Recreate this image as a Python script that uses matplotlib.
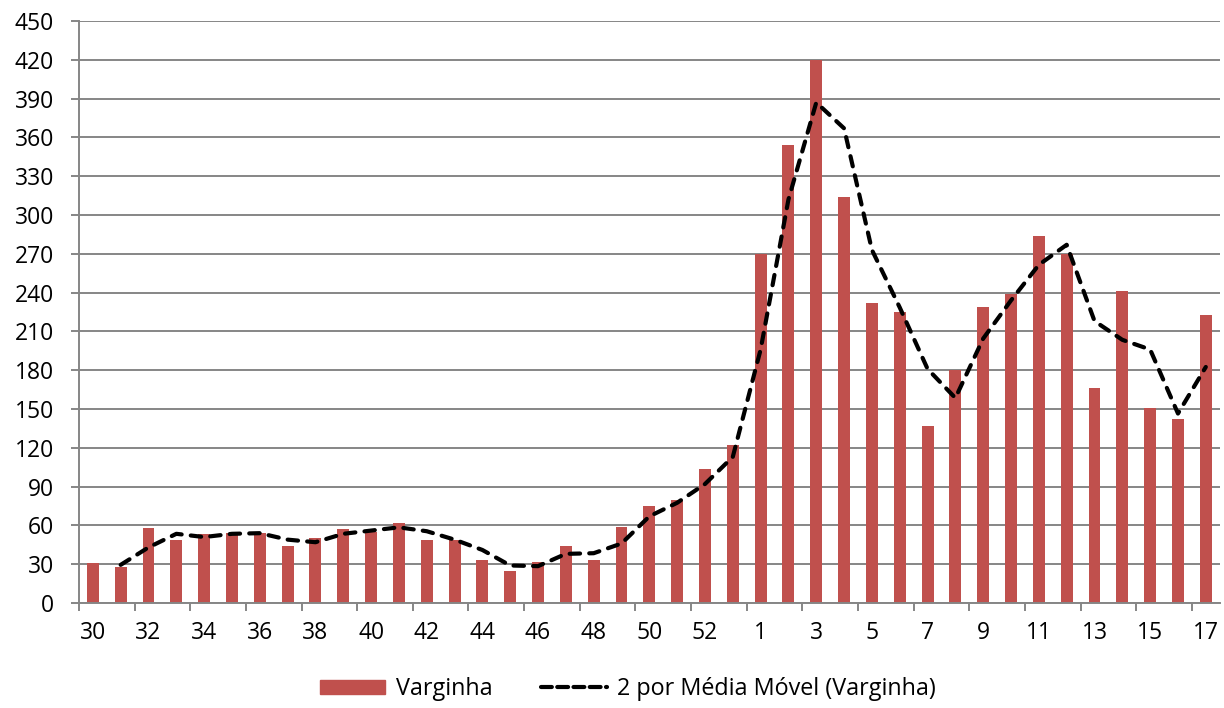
import matplotlib.pyplot as plt
import numpy as np
import pandas as pd
from matplotlib.lines import Line2D
from matplotlib.patches import Patch

plt.rcParams['font.family'] = ['Open Sans', 'DejaVu Sans']

# semanas epidemiologicas (30..53 de um ano, 1..17 do seguinte)
semanas = list(range(30, 54)) + list(range(1, 18))
casos = [31, 28, 58, 49, 53, 54, 54, 44, 50, 57, 55, 62, 49, 49, 33, 25, 32, 44, 33, 59,
         75, 80, 104, 122,
         270, 354, 420, 314, 232, 225, 137, 180, 229, 239, 284, 270, 166, 241, 151, 142, 223]
rotulos = [str(s) for s in semanas]

cor_barra = '#C0504D'
cor_grade = '#868686'

# linha de tendencia: media movel de 2 periodos
mm = pd.Series(casos).rolling(2).mean()

fig = plt.figure(figsize=(12.24, 7.08), dpi=100)
ax = fig.add_axes([0.0645, 0.1483, 0.932, 0.822])

x = np.arange(len(casos))
ax.bar(x, casos, width=0.43, color=cor_barra, zorder=2)
ax.plot(x, mm, color='black', lw=3.0, linestyle=(0, (2.5, 2.2)),
        dash_capstyle='round', zorder=3)

ax.set_xlim(-0.5, len(casos) - 0.5)
ax.set_ylim(0, 450)
ax.set_yticks(np.arange(0, 451, 30))
ax.yaxis.grid(True, color=cor_grade, lw=1.4, zorder=0)
ax.set_axisbelow(True)

ax.set_xticks(x[::2])
ax.set_xticklabels(rotulos[::2])
ax.set_xticks(np.arange(-0.5, len(casos), 2), minor=True)
ax.tick_params(axis='x', which='major', length=0, pad=13, labelsize=16.5)
ax.tick_params(axis='x', which='minor', length=6, width=1.4, color=cor_grade)
ax.tick_params(axis='y', length=6, width=1.4, color=cor_grade, labelsize=16.5, pad=12)

for lado in ['top', 'right']:
    ax.spines[lado].set_visible(False)
for lado in ['left', 'bottom']:
    ax.spines[lado].set_color(cor_grade)
    ax.spines[lado].set_linewidth(1.4)

handles = [Patch(color=cor_barra, label='Varginha'),
           Line2D([], [], color='black', lw=3.0, linestyle=(0, (2.6, 1.3)),
                  dash_capstyle='round', label='2 por Média Móvel (Varginha)')]
fig.legend(handles=handles, loc='lower center', bbox_to_anchor=(0.513, -0.02), ncol=2,
           frameon=False, fontsize=16.8, handlelength=2.8, handleheight=0.6,
           columnspacing=2.1, handletextpad=0.45)

fig.savefig('out.png', dpi=100)
